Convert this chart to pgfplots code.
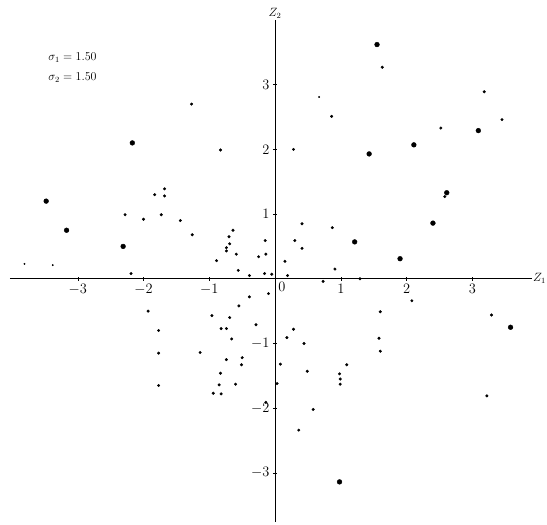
\documentclass[border=0pt]{standalone}
\usepackage{pgfplots}
\pgfplotsset{compat=1.18}
\begin{document}
\begin{tikzpicture}
\useasboundingbox (-10pt,-3pt) rectangle (537pt,522pt);
\begin{axis}[
  scale only axis, width=522pt, height=502pt,
  xmin=-4.03, xmax=3.906, ymin=-3.76, ymax=4.0,
  axis lines=middle, axis line style={-, thick},
  xtick={-3,-2,-1,1,2,3}, ytick={-3,-2,-1,1,2,3},
  tick style={black, thin},
  ticklabel style={font=\Large},
  clip=false,
]
\addplot[only marks, mark=*, mark size=2.4pt, black] coordinates {
(1.55,3.62) (-2.17,2.10) (-3.48,1.20) (-3.17,0.75) (-2.31,0.50)
(2.11,2.07) (1.43,1.93) (2.61,1.33) (2.40,0.86) (1.21,0.57)
(1.90,0.31) (3.58,-0.75) (0.98,-3.14) (3.09,2.29)
};
\addplot[only marks, mark=*, mark size=1.3pt, black] coordinates {
(-1.27,2.70) (1.63,3.27) (0.86,2.51) (3.18,2.89) (3.45,2.46) (2.52,2.33)
(-0.83,1.99) (-1.68,1.39) (-1.83,1.30) (-1.68,1.28) (-2.28,0.99) (-2.00,0.92)
(-1.73,0.99) (-1.44,0.90) (-1.26,0.68) (-0.64,0.75) (-0.70,0.65) (-0.69,0.54)
(-0.74,0.48) (-0.74,0.43) (-0.15,0.59) (-0.59,0.38) (-0.25,0.34) (-0.14,0.38)
(-0.89,0.28) (0.28,2.00) (2.58,1.27) (0.41,0.85) (0.87,0.79) (0.30,0.59)
(0.41,0.47) (0.15,0.27) (0.91,0.15) (-0.56,0.13) (-2.19,0.08) (-0.39,0.05)
(-0.16,0.08) (-0.05,0.07) (-0.39,-0.28) (-0.10,-0.23) (-0.55,-0.42) (-1.93,-0.50)
(-0.96,-0.57) (-0.69,-0.60) (-0.29,-0.71) (-1.77,-0.80) (-0.82,-0.77) (-0.74,-0.77)
(-0.66,-0.93) (-1.77,-1.15) (-1.14,-1.14) (-0.74,-1.25) (-0.50,-1.22) (-0.51,-1.33)
(-0.83,-1.46) (-1.77,-1.65) (-0.85,-1.64) (-0.60,-1.63) (-0.94,-1.77) (-0.82,-1.78)
(-0.14,-1.91) (0.19,0.05) (0.73,-0.04) (1.29,0.00) (2.08,-0.34) (1.60,-0.51)
(3.29,-0.56) (0.28,-0.78) (0.18,-0.91) (1.58,-0.92) (0.44,-1.00) (1.60,-1.12)
(0.08,-1.32) (1.09,-1.33) (0.49,-1.43) (0.98,-1.47) (0.99,-1.55) (0.99,-1.63)
(0.03,-1.62) (0.58,-2.02) (0.36,-2.34) (3.22,-1.81)
};
\addplot[only marks, mark=*, mark size=0.7pt, black] coordinates {
(0.67,2.81) (-3.81,0.23) (-3.38,0.21)
};
\node[below right, inner sep=3pt, font=\Large] at (axis cs:0,0) {$0$};
\node[anchor=west, inner sep=1pt, font=\large] at (axis cs:3.906,0) {$Z_1$};
\node[above, inner sep=1pt, font=\large] at (axis cs:0,4.0) {$Z_2$};
\node[anchor=west, font=\large] at (axis cs:-3.5,3.42) {$\sigma_1 = 1.50$};
\node[anchor=west, font=\large] at (axis cs:-3.5,3.11) {$\sigma_2 = 1.50$};
\end{axis}
\end{tikzpicture}
\end{document}
